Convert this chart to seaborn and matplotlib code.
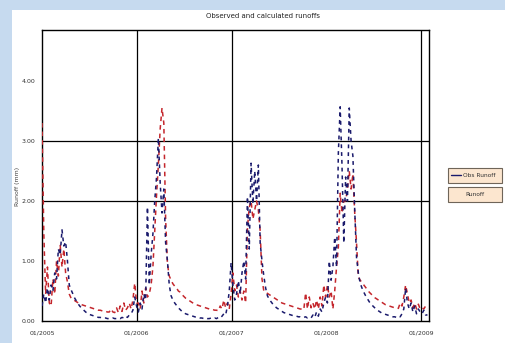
import matplotlib
matplotlib.use("Agg")
import matplotlib.pyplot as plt
import matplotlib.dates as mdates
from matplotlib.patches import Rectangle
from matplotlib.lines import Line2D
from matplotlib.ticker import FormatStrFormatter
import seaborn as sns
import pandas as pd

# Weekly runoff (mm), starting 2005-01-01
obs_2005 = [0.25, 0.45, 0.30, 0.55, 0.35, 0.60, 0.50, 0.80, 0.70, 1.20,
            1.10, 1.52, 1.25, 1.32, 1.00, 0.60, 0.52, 0.45, 0.38, 0.33,
            0.28, 0.24, 0.21, 0.18, 0.15, 0.13, 0.11, 0.10, 0.09, 0.08,
            0.07, 0.06, 0.06, 0.05, 0.05, 0.05, 0.04, 0.04, 0.04, 0.05,
            0.04, 0.04, 0.05, 0.04, 0.06, 0.05, 0.08, 0.06, 0.10, 0.12,
            0.18, 0.40, 0.25]
obs_2006 = [0.15, 0.30, 0.20, 0.45, 0.35, 1.90, 0.60, 1.10, 1.45, 2.00,
            2.40, 3.05, 2.30, 1.80, 2.20, 1.30, 1.00, 0.60, 0.42, 0.35,
            0.30, 0.26, 0.22, 0.19, 0.16, 0.14, 0.12, 0.11, 0.10, 0.09,
            0.08, 0.07, 0.06, 0.06, 0.05, 0.05, 0.04, 0.05, 0.04, 0.04,
            0.05, 0.04, 0.05, 0.04, 0.06, 0.05, 0.08, 0.12, 0.10, 0.25,
            0.50, 0.97]
obs_2007 = [0.60, 0.35, 0.45, 0.67, 0.45, 0.80, 1.00, 0.70, 2.07, 1.20,
            2.63, 1.95, 2.50, 2.00, 2.60, 1.30, 1.00, 0.75, 0.55, 0.42,
            0.36, 0.32, 0.28, 0.25, 0.22, 0.20, 0.18, 0.16, 0.14, 0.13,
            0.12, 0.11, 0.10, 0.09, 0.08, 0.08, 0.07, 0.07, 0.06, 0.06,
            0.07, 0.05, 0.06, 0.05, 0.10, 0.06, 0.15, 0.08, 0.20, 0.15,
            0.30, 0.40]
obs_2008 = [0.30, 1.00, 0.68, 0.90, 1.40, 0.90, 2.80, 3.57, 2.60, 1.30,
            2.40, 2.00, 3.55, 3.00, 2.75, 1.85, 1.06, 0.80, 0.63, 0.55,
            0.48, 0.42, 0.37, 0.32, 0.28, 0.25, 0.22, 0.19, 0.17, 0.15,
            0.13, 0.12, 0.11, 0.10, 0.09, 0.08, 0.07, 0.07, 0.06, 0.08,
            0.07, 0.12, 0.20, 0.55, 0.30, 0.20, 0.30, 0.15, 0.25, 0.12,
            0.20, 0.15]
obs_2009 = [0.12, 0.18, 0.10, 0.10]

calc_2005 = [3.30, 1.45, 0.45, 0.90, 0.30, 0.25, 0.70, 0.45, 1.00, 0.75,
             1.27, 0.90, 1.20, 0.80, 0.65, 0.45, 0.38, 0.36, 0.34, 0.32,
             0.30, 0.29, 0.27, 0.26, 0.25, 0.24, 0.23, 0.22, 0.21, 0.20,
             0.19, 0.18, 0.18, 0.17, 0.16, 0.16, 0.15, 0.15, 0.20, 0.15,
             0.14, 0.22, 0.14, 0.25, 0.16, 0.30, 0.18, 0.22, 0.30, 0.20,
             0.35, 0.63, 0.30]
calc_2006 = [0.30, 0.20, 0.50, 0.30, 0.55, 0.40, 0.45, 0.60, 0.90, 1.50,
             2.10, 2.60, 3.20, 3.55, 3.30, 1.70, 0.95, 0.75, 0.68, 0.62,
             0.58, 0.55, 0.50, 0.48, 0.44, 0.41, 0.38, 0.36, 0.34, 0.32,
             0.30, 0.28, 0.27, 0.26, 0.25, 0.24, 0.23, 0.22, 0.21, 0.20,
             0.20, 0.19, 0.18, 0.18, 0.17, 0.25, 0.20, 0.35, 0.22, 0.30,
             0.20, 0.45]
calc_2007 = [0.80, 0.50, 0.60, 0.40, 0.50, 0.35, 0.50, 0.30, 1.55, 1.90,
             2.00, 1.70, 1.85, 2.00, 1.85, 1.50, 0.70, 0.50, 0.48, 0.46,
             0.44, 0.42, 0.40, 0.38, 0.36, 0.34, 0.32, 0.30, 0.29, 0.28,
             0.27, 0.26, 0.25, 0.24, 0.23, 0.22, 0.21, 0.20, 0.20, 0.19,
             0.47, 0.20, 0.40, 0.22, 0.30, 0.20, 0.35, 0.20, 0.40, 0.25,
             0.60, 0.40]
calc_2008 = [0.60, 0.40, 0.50, 0.20, 0.50, 0.90, 1.23, 2.13, 1.80, 2.00,
             2.00, 2.20, 2.50, 2.20, 2.45, 1.80, 1.30, 0.73, 0.68, 0.64,
             0.60, 0.56, 0.52, 0.48, 0.45, 0.42, 0.39, 0.37, 0.35, 0.33,
             0.31, 0.29, 0.27, 0.26, 0.25, 0.24, 0.23, 0.22, 0.22, 0.21,
             0.30, 0.25, 0.40, 0.60, 0.45, 0.30, 0.35, 0.22, 0.30, 0.20,
             0.28, 0.20]
calc_2009 = [0.22, 0.20, 0.25, 0.20]

y_ticks = [0, 1, 2, 3, 4]
year_ticks = ["2005-01-01", "2006-01-01", "2007-01-01", "2008-01-01", "2009-01-01"]
grid_years = ["2006-01-01", "2007-01-01", "2009-01-01"]
grid_levels = [2, 3]
title = "Observed and calculated runoffs"
ylabel = "Runoff (mm)"
legend_labels = ["Obs Runoff", "Runoff"]

obs = obs_2005 + obs_2006 + obs_2007 + obs_2008 + obs_2009
calc = calc_2005 + calc_2006 + calc_2007 + calc_2008 + calc_2009
df = pd.DataFrame({
    "date": pd.date_range("2005-01-01", periods=len(obs), freq="7D"),
    "obs": obs,
    "calc": calc,
})

sns.set_style("white")
plt.rcParams["font.family"] = ["DejaVu Sans"]

W, H = 506, 343
navy = "#1a1a6c"
red = "#c4262c"

fig = plt.figure(figsize=(W / 100, H / 100), dpi=100, facecolor="#c6daef")
fig.patches.append(Rectangle((12 / W, 0), 1 - 12 / W, 1 - 10 / H,
                             transform=fig.transFigure, facecolor="white",
                             edgecolor="none", zorder=-5))

ax = fig.add_axes([42 / W, 1 - 321 / H, (429 - 42) / W, (321 - 30) / H])
ax.set_zorder(1)
ax.set_facecolor("white")

sns.lineplot(data=df, x="date", y="calc", ax=ax, color=red,
             linestyle=(0, (3, 2.6)), linewidth=1.1, zorder=3)
sns.lineplot(data=df, x="date", y="obs", ax=ax, color=navy,
             linestyle=(0, (2.5, 2.6)), linewidth=1.1, zorder=4)

for lv in grid_levels:
    ax.axhline(lv, color="black", linewidth=0.9, zorder=1)
for d in grid_years:
    ax.axvline(pd.Timestamp(d), color="black", linewidth=0.9, zorder=1)

ax.set_ylim(0, 4.85)
ax.set_yticks(y_ticks)
ax.yaxis.set_major_formatter(FormatStrFormatter("%.2f"))
ax.set_xlim(pd.Timestamp("2005-01-01"), pd.Timestamp("2009-01-30"))
ax.set_xticks([pd.Timestamp(d) for d in year_ticks])
ax.xaxis.set_major_formatter(mdates.DateFormatter("%m/%Y"))

ax.set_xlabel("")
ax.set_ylabel("")
for s in ax.spines.values():
    s.set_color("black")
    s.set_linewidth(1.0)
ax.tick_params(axis="both", which="major", length=3, width=0.8, color="black",
               labelsize=4.5, labelcolor="#333333", direction="out", pad=2)
ax.tick_params(axis="x", pad=4)

fig.text(263 / W, 1 - 16 / H, title, ha="center", va="center",
         fontsize=5, color="#222222")
fig.text(17 / W, 1 - 186 / H, ylabel, ha="center", va="center",
         rotation=90, fontsize=4.5, color="#444444")

# legend boxes
box_fc = "#fce6cf"
box_ec = "#6f6559"
for (y0, y1) in [(168, 183), (187, 202)]:
    fig.patches.append(Rectangle((448 / W, 1 - y1 / H), 54 / W, (y1 - y0) / H,
                                 transform=fig.transFigure, facecolor=box_fc,
                                 edgecolor=box_ec, linewidth=0.8, zorder=2))
fig.add_artist(Line2D([451 / W, 461 / W], [1 - 175.5 / H, 1 - 175.5 / H],
                      transform=fig.transFigure, color=navy, linewidth=1.0,
                      zorder=6))
fig.text(463 / W, 1 - 175.5 / H, legend_labels[0], ha="left", va="center",
         fontsize=4.2, color="#333333", zorder=6)
fig.text(475 / W, 1 - 194.5 / H, legend_labels[1], ha="center", va="center",
         fontsize=4.2, color="#333333", zorder=6)

fig.savefig("out.png", dpi=100, facecolor=fig.get_facecolor())
